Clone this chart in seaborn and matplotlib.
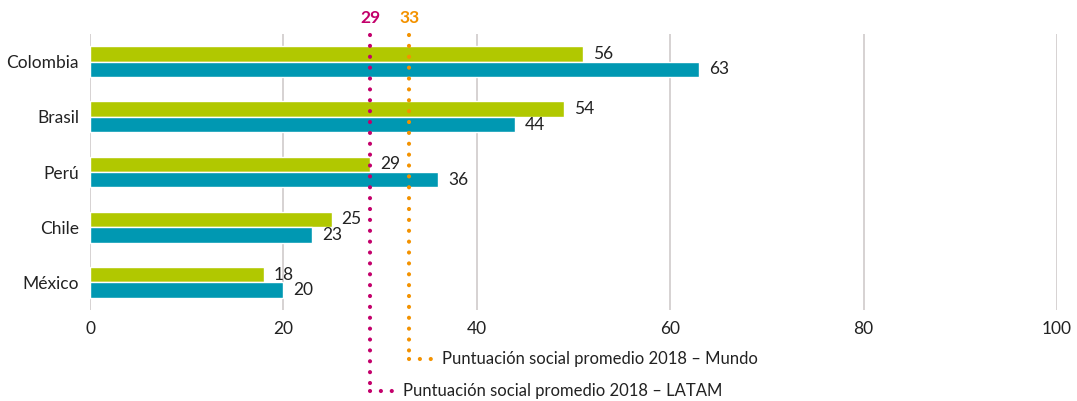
import pandas as pd
import matplotlib.pyplot as plt
import seaborn as sns

# ========== Data ==========
countries = ["Colombia", "Brasil", "Perú", "Chile", "México"]
# bar lengths as drawn in the reference (green bars for Colombia/Brasil are drawn shorter than labelled)
green_values = [51, 49, 29, 25, 18]
green_labels = ["56", "54", "29", "25", "18"]
teal_values = [63, 44, 36, 23, 20]
teal_labels = ["63", "44", "36", "23", "20"]
series_names = ["Serie 1", "Serie 2"]
ticks = [0, 20, 40, 60, 80, 100]
latam_avg = 29
world_avg = 33
latam_text = "Puntuación social promedio 2018 – LATAM"
world_text = "Puntuación social promedio 2018 – Mundo"

green = "#b1c800"
teal = "#0098b2"
magenta = "#c3006b"
orange = "#f39200"

df = pd.DataFrame({
    "pais": countries * 2,
    "valor": green_values + teal_values,
    "serie": [series_names[0]] * 5 + [series_names[1]] * 5,
})

# ========== Plot ==========
sns.set_style("white")
plt.rcParams['font.family'] = ['Lato', 'DejaVu Sans']

fig = plt.figure(figsize=(10.77, 4.01), dpi=100)
ax = fig.add_axes([0.0836, 0.227, 0.8978, 0.688])

sns.barplot(data=df, y="pais", x="valor", hue="serie", orient="h",
            palette=[green, teal], width=0.56, dodge=True, legend=False,
            saturation=1, ax=ax)

ax.set_xlim(0, 100)
ax.set_ylim(4.5, -0.5)
ax.set_xticks(ticks)
ax.set_xlabel("")
ax.set_ylabel("")
ax.tick_params(axis="both", length=0, labelsize=12.5, colors="#222222")
ax.tick_params(axis="y", pad=8)
ax.tick_params(axis="x", pad=8)
for s in ax.spines.values():
    s.set_visible(False)
ax.grid(axis="x", color="#d3cfcf", linewidth=1.3)
ax.set_axisbelow(True)

# value labels
for cont, labels in zip(ax.containers, [green_labels, teal_labels]):
    ax.bar_label(cont, labels=labels, padding=7, fontsize=12.5, color="#222222")

# average lines
trans = ax.get_xaxis_transform()
dot = (0, (0.01, 2.6))
ax.plot([latam_avg, latam_avg], [0.995, -0.295], transform=trans, clip_on=False,
        color=magenta, lw=3, ls=dot, dash_capstyle="round")
ax.plot([latam_avg, 31.6], [-0.295, -0.295], transform=trans, clip_on=False,
        color=magenta, lw=3, ls=dot, dash_capstyle="round")
ax.plot([world_avg, world_avg], [0.995, -0.178], transform=trans, clip_on=False,
        color=orange, lw=3, ls=dot, dash_capstyle="round")
ax.plot([world_avg, 35.6], [-0.178, -0.178], transform=trans, clip_on=False,
        color=orange, lw=3, ls=dot, dash_capstyle="round")

ax.text(latam_avg, 1.028, str(latam_avg), transform=trans, ha="center", va="bottom",
        color=magenta, fontsize=12.5, fontweight="bold")
ax.text(world_avg, 1.028, str(world_avg), transform=trans, ha="center", va="bottom",
        color=orange, fontsize=12.5, fontweight="bold")
ax.text(32.4, -0.295, latam_text, transform=trans, ha="left", va="center",
        color="#222222", fontsize=12)
ax.text(36.4, -0.178, world_text, transform=trans, ha="left", va="center",
        color="#222222", fontsize=12)

plt.savefig("out.png", dpi=100)
plt.close()
